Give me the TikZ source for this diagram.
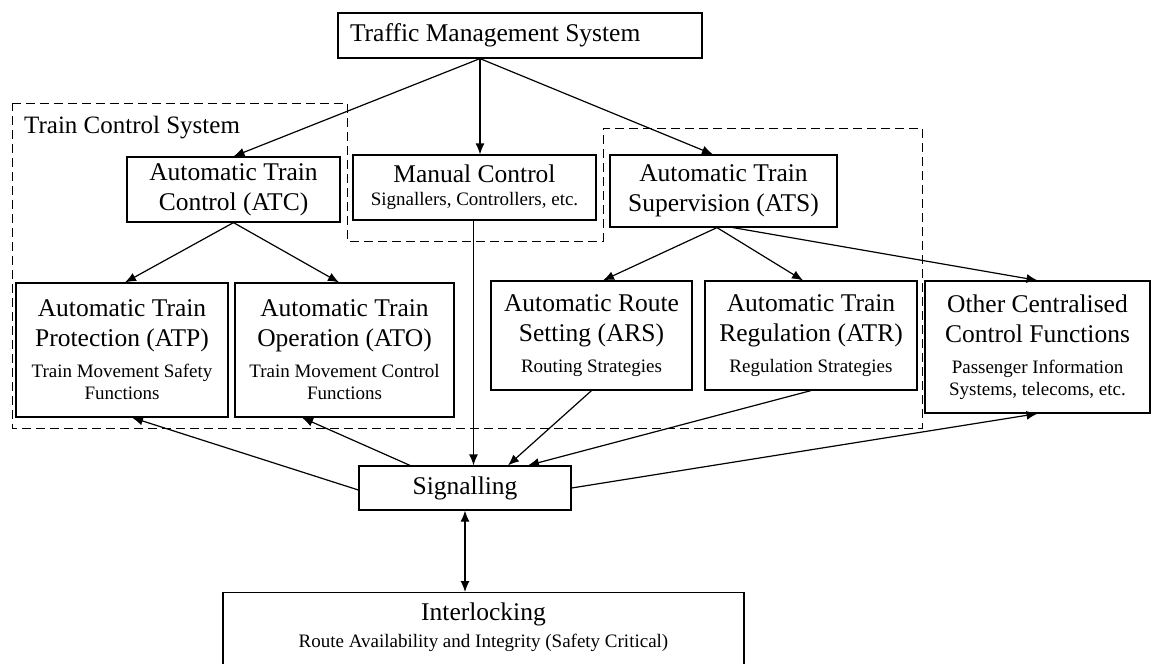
\documentclass[tikz,border=0pt]{standalone}
\usepackage{fontspec}
\setmainfont{Liberation Serif}
\usetikzlibrary{arrows.meta}
\newcommand{\bigtxt}{\fontsize{25.5}{30}\selectfont}
\newcommand{\smalltxt}{\fontsize{19}{22}\selectfont}

\begin{document}
\begin{tikzpicture}[x=1pt, y=-1pt,
		box/.style={rectangle, draw, line width=1.2pt, inner sep=0pt, align=flush center, font=\bigtxt},
		link/.style={line width=1.2pt, -{Latex[length=11pt, width=9pt]}},
		tcsline/.style={line width=1pt, dash pattern=on 9pt off 5pt}
		]
		\clip (0,0) rectangle (1152,664);
		
		% Train Control System boundary (Manual Control left outside)
		\draw[tcsline] (12,103) -- (347,103) -- (347,241) -- (603,241) -- (603,128)
			-- (922,128) -- (922,428) -- (12,428) -- cycle;
		\node[font=\fontsize{25}{29}\selectfont, anchor=west, inner sep=0pt] (tcs) at (24,128) {Train Control System};
		
		% top level
		\node[box, minimum width=364pt, minimum height=45pt, text width=340pt, align=flush left] (tms) at (520,35.5) {Traffic Management System};
		
		% second level
		\node[box, minimum width=213pt, minimum height=65pt, text width=205pt] (atc) at (233.5,189.5) {Automatic Train\\Control (ATC)};
		\node[box, minimum width=243pt, minimum height=65pt, text width=235pt] (man) at (474.5,187.5) {Manual Control\par\vspace{1pt}{\smalltxt Signallers, Controllers, etc.\par}};
		\node[box, minimum width=227pt, minimum height=72pt, text width=219pt] (ats) at (723.5,191) {Automatic Train\\Supervision (ATS)};
		
		% function boxes
		\node[box, minimum width=212pt, minimum height=134pt, text width=206pt] (atp) at (122,350) {Automatic Train\\Protection (ATP)\par\vspace{9pt}{\smalltxt Train Movement Safety\\Functions\par}\vspace{4pt}};
		\node[box, minimum width=219pt, minimum height=134pt, text width=213pt] (ato) at (344.5,350) {Automatic Train\\Operation (ATO)\par\vspace{9pt}{\smalltxt Train Movement Control\\Functions\par}\vspace{4pt}};
		\node[box, minimum width=201pt, minimum height=109pt, text width=197pt] (ars) at (591.5,335.5) {Automatic Route\\Setting (ARS)\par\vspace{9pt}{\smalltxt Routing Strategies\par}};
		\node[box, minimum width=212pt, minimum height=109pt, text width=208pt] (atr) at (811,335.5) {Automatic Train\\Regulation (ATR)\par\vspace{9pt}{\smalltxt Regulation Strategies\par}};
		\node[box, minimum width=225pt, minimum height=132pt, text width=219pt] (oth) at (1037.5,347) {Other Centralised\\Control Functions\par\vspace{9pt}{\smalltxt Passenger Information\\Systems, telecoms, etc.\par}};
		
		% lower level
		\node[box, minimum width=212pt, minimum height=44pt] (sig) at (465,488) {Signalling};
		\node[box, anchor=north, minimum width=521pt, inner ysep=10pt, text width=511pt] (ilk) at (483.5,592) {Interlocking\par\vspace{5pt}{\smalltxt Route Availability and Integrity (Safety Critical)\par}\rule{0pt}{60pt}};
		
		% connectors from the top
		\draw[link] ([xshift=-40pt]tms.south) -- (atc.north);
		\draw[link] ([xshift=-40pt]tms.south) -- ([xshift=5.5pt]man.north);
		\draw[link] ([xshift=-40pt]tms.south) -- ([xshift=-10.5pt]ats.north);
		\draw[link] (atc.south) -- ([xshift=3pt]atp.north);
		\draw[link] (atc.south) -- ([xshift=-5.5pt]ato.north);
		\draw[link] ([xshift=-6.5pt]ats.south) -- ([xshift=11.5pt]ars.north);
		\draw[link] ([xshift=-6.5pt]ats.south) -- ([xshift=-8pt]atr.north);
		\draw[link] ([xshift=9.5pt]ats.south) -- (oth.north);
		
		% connectors to and from Signalling
		\draw[link] ([xshift=-1pt]man.south) -- ([xshift=-1pt]man.south |- sig.north);
		\draw[link] (ars.south) -- ([xshift=43pt]sig.north);
		\draw[link] (atr.south) -- ([xshift=63pt]sig.north);
		\draw[link] ([yshift=-2pt]sig.west) -- ([xshift=10pt]atp.south);
		\draw[link] ([xshift=-55pt]sig.north) -- ([xshift=-42.5pt]ato.south);
		\draw[link] (sig.east) -- (oth.south);
		\draw[link, {Latex[length=11pt, width=9pt]}-{Latex[length=11pt, width=9pt]}] (sig.south) -- (sig.south |- ilk.north);
	\end{tikzpicture}
\end{document}
